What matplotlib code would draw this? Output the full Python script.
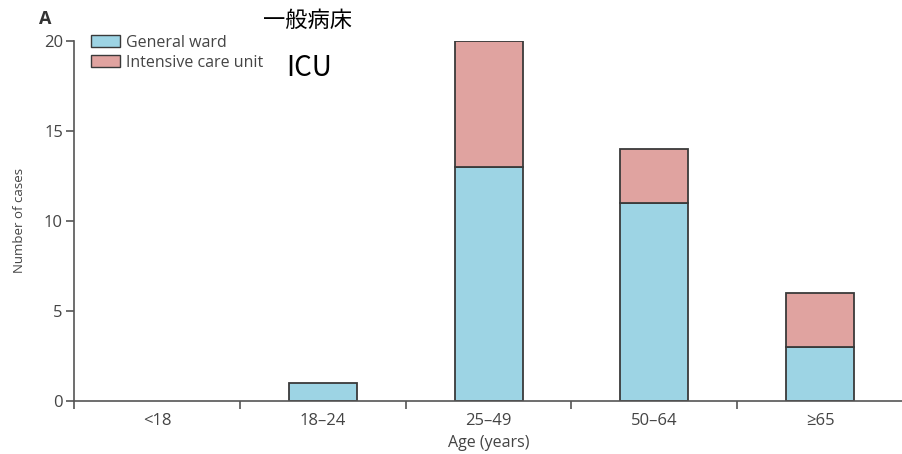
import matplotlib.pyplot as plt
from matplotlib.patches import Patch

ages = ['<18', '18–24', '25–49', '50–64', '≥65']
general_ward = [0, 1, 13, 11, 3]
icu = [0, 0, 7, 3, 3]

blue = '#9dd4e4'
red = '#e0a3a0'
edge = '#3a3a3a'
txt = '#444444'

plt.rcParams['font.family'] = ['Open Sans', 'DejaVu Sans']

fig = plt.figure(figsize=(9.03, 4.54), dpi=100)
ax = fig.add_axes([0.082, 0.117, 0.918, 0.793])

x = list(range(len(ages)))
# bars with zero height get no outline
ax.bar(x, general_ward, width=0.41, color=blue, edgecolor=edge,
       linewidth=[1.3 if v else 0 for v in general_ward])
ax.bar(x, icu, width=0.41, bottom=general_ward, color=red, edgecolor=edge,
       linewidth=[1.3 if v else 0 for v in icu])

ax.set_xlim(-0.5, 4.5)
ax.set_ylim(0, 20)
ax.set_yticks([0, 5, 10, 15, 20])
ax.set_xticks(x)
ax.set_xticklabels(ages)
ax.set_xticks([i - 0.5 for i in range(len(ages) + 1)], minor=True)
ax.tick_params(axis='x', which='major', length=0, pad=9, labelsize=12, colors=txt)
ax.tick_params(axis='x', which='minor', length=6, width=1.2, color='#555555')
ax.tick_params(axis='y', length=6, width=1.2, color='#555555', labelsize=12, labelcolor=txt, pad=2)

for s in ['top', 'right']:
    ax.spines[s].set_visible(False)
for s in ['left', 'bottom']:
    ax.spines[s].set_color('#555555')
    ax.spines[s].set_linewidth(1.2)

ax.set_xlabel('Age (years)', fontsize=11.5, color=txt, labelpad=4)
ax.set_ylabel('Number of cases', fontsize=9.5, color=txt, labelpad=13)

handles = [Patch(facecolor=blue, edgecolor=edge, label='General ward'),
           Patch(facecolor=red, edgecolor=edge, label='Intensive care unit')]
leg = ax.legend(handles=handles, loc='upper left', bbox_to_anchor=(0.013, 1.035),
                frameon=False, fontsize=11.5, handlelength=1.8, handleheight=0.8,
                handletextpad=0.4, labelspacing=0.25, borderaxespad=0)
for t in leg.get_texts():
    t.set_color(txt)

fig.text(0.05, 0.978, 'A', fontsize=13, fontweight='bold', color='#333333', va='top', ha='center')
fig.text(0.34, 0.954, '一般病床', fontsize=16, color='black', ha='center', va='center',
         family=['Noto Sans CJK JP', 'DejaVu Sans'])
fig.text(0.342, 0.85, 'ICU', fontsize=20, color='black', ha='center', va='center',
         family=['Noto Sans CJK JP', 'DejaVu Sans'])

fig.savefig('out.png', dpi=100)
